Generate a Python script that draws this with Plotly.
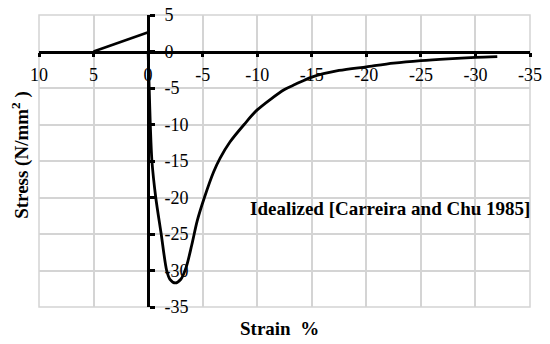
import plotly.graph_objects as go

# Data
tension_strain = [5, 0.05]
tension_stress = [0, 2.6]

comp_strain = [0, -0.1, -0.2, -0.35, -0.7, -1.2, -1.7, -2.0, -2.5, -3.0, -3.5, -4.0, -4.5,
               -5.16, -6.0, -6.6, -7.5, -8.8, -10, -12.5, -13.5, -15, -17.5, -20, -22.5,
               -25, -27.5, -30, -32]
comp_stress = [0, -5, -10, -15, -20, -25, -30, -31.2, -31.7, -31.2, -29.5, -26.5, -23.2,
               -20, -16.5, -14.6, -12.4, -10.0, -8.0, -5.2, -4.5, -3.5, -2.6, -2.1, -1.6,
               -1.25, -1.0, -0.8, -0.7]

x_ticks = [10, 5, 0, -5, -10, -15, -20, -25, -30, -35]
y_ticks = [5, 0, -5, -10, -15, -20, -25, -30, -35]

FONT = "Liberation Serif, Times New Roman, serif"

fig = go.Figure()
fig.add_trace(go.Scatter(x=tension_strain, y=tension_stress, mode="lines",
                         line=dict(color="black", width=2.5), showlegend=False))
fig.add_trace(go.Scatter(x=comp_strain, y=comp_stress, mode="lines",
                         line=dict(color="black", width=2.8, shape="spline", smoothing=0.8),
                         showlegend=False))

# page body adds an 8px offset, so the figure is 8px smaller and margins shifted
fig.update_layout(
    width=542, height=336,
    margin=dict(l=31, r=20, t=7, b=37),
    paper_bgcolor="white", plot_bgcolor="white",
    font=dict(family=FONT, color="black"),
    xaxis=dict(range=[10, -35], tickvals=x_ticks, ticktext=[str(v) for v in x_ticks],
               anchor="free", position=35/40, side="bottom", automargin=False,
               showline=True, linecolor="black", linewidth=2.5,
               ticks="outside", ticklen=4, tickwidth=2.5, tickcolor="black",
               ticklabelstandoff=2, ticklabeloverflow="allow",
               showgrid=True, gridcolor="#d4d4d4", gridwidth=1.5, zeroline=False,
               tickfont=dict(size=18, family=FONT, color="black")),
    yaxis=dict(range=[-35, 5], tickvals=y_ticks, ticktext=[str(v) for v in y_ticks],
               anchor="free", position=10/45, side="right", automargin=False,
               showline=True, linecolor="black", linewidth=2.5,
               ticks="outside", ticklen=5, tickwidth=2.5, tickcolor="black",
               ticklabelstandoff=6, ticklabeloverflow="allow",
               showgrid=True, gridcolor="#d4d4d4", gridwidth=1.5, zeroline=False,
               tickfont=dict(size=18, family=FONT, color="black")),
    shapes=[dict(type="rect", xref="paper", yref="paper", x0=0, x1=1, y0=0, y1=1,
                 line=dict(color="#d4d4d4", width=1.5), layer="below")],
    annotations=[
        dict(text="Idealized [Carreira and Chu 1985]", xref="paper", yref="paper",
             x=0.4257, y=0.339, xanchor="left", yanchor="middle", showarrow=False,
             font=dict(size=19, family=FONT, color="black", weight="bold")),
        dict(text="Strain  %", xref="paper", yref="paper", x=(279-39)/491, y=-0.072,
             xanchor="center", yanchor="middle", showarrow=False,
             font=dict(size=19, family=FONT, color="black", weight="bold")),
        dict(text="Stress (N/mm<sup>2</sup> )", xref="paper", yref="paper", x=-0.039,
             y=(307-155)/292, xanchor="center", yanchor="middle", textangle=-90,
             showarrow=False, font=dict(size=19, family=FONT, color="black", weight="bold")),
    ],
)

fig.write_html("out.html")
